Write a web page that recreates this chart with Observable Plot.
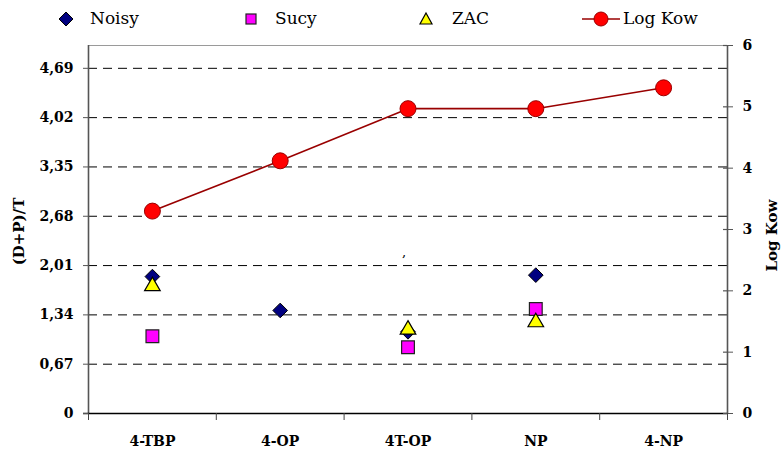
<!DOCTYPE html>
<html>
<head>
<meta charset="utf-8">
<script src="https://cdn.jsdelivr.net/npm/d3@7"></script>
<script src="https://cdn.jsdelivr.net/npm/@observablehq/plot@0.6"></script>
<style>
  body { margin: 0; background: #fff; }
  #wrap { position: relative; width: 781px; height: 453px; font-family: 'DejaVu Serif', serif; }
  #legend { position: absolute; left: 0; top: 0; width: 781px; height: 36px; }
  .lg { position: absolute; top: 7px; font-size: 17px; color: #000; line-height: 22px; font-family: 'DejaVu Serif', serif; }
  .sym { position: absolute; top: 9px; }
</style>
</head>
<body>
<div id="wrap">
  <div id="chart"></div>
  <div id="legend"></div>
</div>
<script>
const categories = ["4-TBP", "4-OP", "4T-OP", "NP", "4-NP"];
const noisy  = [1.86, 1.40, 1.11, 1.88, null];
const sucy   = [1.05, null, 0.90, 1.42, null];
const zac    = [1.73, null, 1.14, 1.24, null];
const logKow = [3.30, 4.12, 4.97, 4.97, 5.31];
const leftTicks = [0, 0.67, 1.34, 2.01, 2.68, 3.35, 4.02, 4.69];
const rightTicks = [0, 1, 2, 3, 4, 5, 6];
const leftMax = 5.0;
const rightMax = 6;
const k = leftMax / rightMax;

const FF = "'DejaVu Serif', serif";
const rows = (vals) => vals.map((v, i) => ({i, v})).filter(d => d.v != null);
const kowRows = logKow.map((v, i) => ({i, v: v * k}));
const boundaries = d3.range(categories.length + 1).map(i => i - 0.5);
const xMin = -0.5, xMax = categories.length - 0.5;
const fmtL = d => d === 0 ? "0" : d.toFixed(2).replace(".", ",");

const chart = Plot.plot({
  width: 781,
  height: 453,
  marginLeft: 88,
  marginRight: 54,
  marginTop: 45,
  marginBottom: 40,
  style: {fontFamily: FF, background: "#fff"},
  x: {domain: [xMin, xMax], axis: null},
  y: {domain: [0, leftMax], axis: null},
  marks: [
    // dashed grid
    Plot.ruleY(leftTicks.filter(d => d > 0), {x1: xMin, x2: xMax, stroke: "#000", strokeDasharray: "9,6", strokeWidth: 1}),
    // top border
    Plot.ruleY([leftMax], {x1: xMin, x2: xMax, stroke: "#9a9a9a", strokeWidth: 1.2}),
    // left & right axis lines
    Plot.ruleX([xMin, xMax], {y1: 0, y2: leftMax, stroke: "#555", strokeWidth: 1.6}),
    // bottom axis
    Plot.ruleY([0], {x1: xMin, x2: xMax, stroke: "#000", strokeWidth: 1.4, insetLeft: -5}),
    // category boundary ticks (below baseline)
    Plot.ruleX(boundaries, {y1: 0, y2: 0, stroke: "#444", strokeWidth: 1, insetBottom: -7}),
    // left axis
    Plot.axisY(leftTicks, {anchor: "left", tickSize: 5, tickFormat: fmtL, fontSize: 14, fontWeight: "bold", fontFamily: FF, tickPadding: 10, stroke: "#555", label: null}),
    // right axis (Log Kow)
    Plot.axisY(rightTicks.map(d => d * k), {anchor: "right", tickSize: 5, tickFormat: d => String(Math.round(d / k)), fontSize: 14, fontWeight: "bold", fontFamily: FF, tickPadding: 10, stroke: "#555", label: null}),
    Plot.ruleY(rightTicks.map(d => d * k), {x1: xMax, x2: xMax, insetLeft: -4, stroke: "#555", strokeWidth: 1.2}),
    // x axis labels
    Plot.axisX(d3.range(categories.length), {anchor: "bottom", tickSize: 0, tickPadding: 23, tickFormat: i => categories[i], fontSize: 14, fontWeight: "bold", fontFamily: FF, label: null}),
    // series
    Plot.dot(rows(noisy), {x: "i", y: "v", symbol: "diamond2", r: 6.6, fill: "#000080", stroke: "#000", strokeWidth: 1}),
    Plot.dot(rows(sucy), {x: "i", y: "v", symbol: "square", r: 7.2, fill: "#ff00ff", stroke: "#222", strokeWidth: 1.2}),
    Plot.dot(rows(zac), {x: "i", y: "v", symbol: "triangle", r: 5.8, fill: "#ffff00", stroke: "#000", strokeWidth: 1.2}),
    Plot.line(kowRows, {x: "i", y: "v", stroke: "#990000", strokeWidth: 1.6}),
    Plot.dot(kowRows, {x: "i", y: "v", r: 8, fill: "#ff0000", stroke: "#990000", strokeWidth: 1}),
    // stray mark in reference
    Plot.text([","], {x: 1.97, y: 2.2, text: d => d, fontSize: 13, fontFamily: FF, fill: "#000"}),
    // axis titles
    Plot.text(["(D+P)/T"], {frameAnchor: "left", textAnchor: "middle", dx: -69, dy: 2, rotate: -90, text: d => d, fontSize: 15, fontWeight: "bold", fontFamily: FF}),
    Plot.text(["Log Kow"], {frameAnchor: "right", textAnchor: "middle", dx: 45, dy: 6, rotate: -90, text: d => d, fontSize: 15, fontWeight: "bold", fontFamily: FF})
  ]
});
document.getElementById("chart").appendChild(chart);

// legend
const legendItems = [
  {label: "Noisy", tx: 90, sym: `<svg width="16" height="16" class="sym" style="left:58px;top:11px"><path d="M8,1 L15,8 L8,15 L1,8Z" fill="#000080" stroke="#000"/></svg>`},
  {label: "Sucy", tx: 275, sym: `<svg width="14" height="14" class="sym" style="left:244px;top:12px"><rect x="2" y="2" width="10" height="10" fill="#ff00ff" stroke="#222" stroke-width="1.2"/></svg>`},
  {label: "ZAC", tx: 452, sym: `<svg width="16" height="16" class="sym" style="left:418px;top:11px"><path d="M8,2 L14,13 L2,13Z" fill="#ffff00" stroke="#000" stroke-width="1.2"/></svg>`},
  {label: "Log Kow", tx: 623, sym: `<svg width="40" height="18" class="sym" style="left:581px;top:10px"><line x1="1" y1="9" x2="39" y2="9" stroke="#990000" stroke-width="1.6"/><circle cx="20" cy="9" r="7" fill="#ff0000" stroke="#990000"/></svg>`}
];
const lg = document.getElementById("legend");
lg.innerHTML = legendItems.map(d => d.sym + `<span class="lg" style="left:${d.tx}px">${d.label}</span>`).join("");
</script>
</body>
</html>
